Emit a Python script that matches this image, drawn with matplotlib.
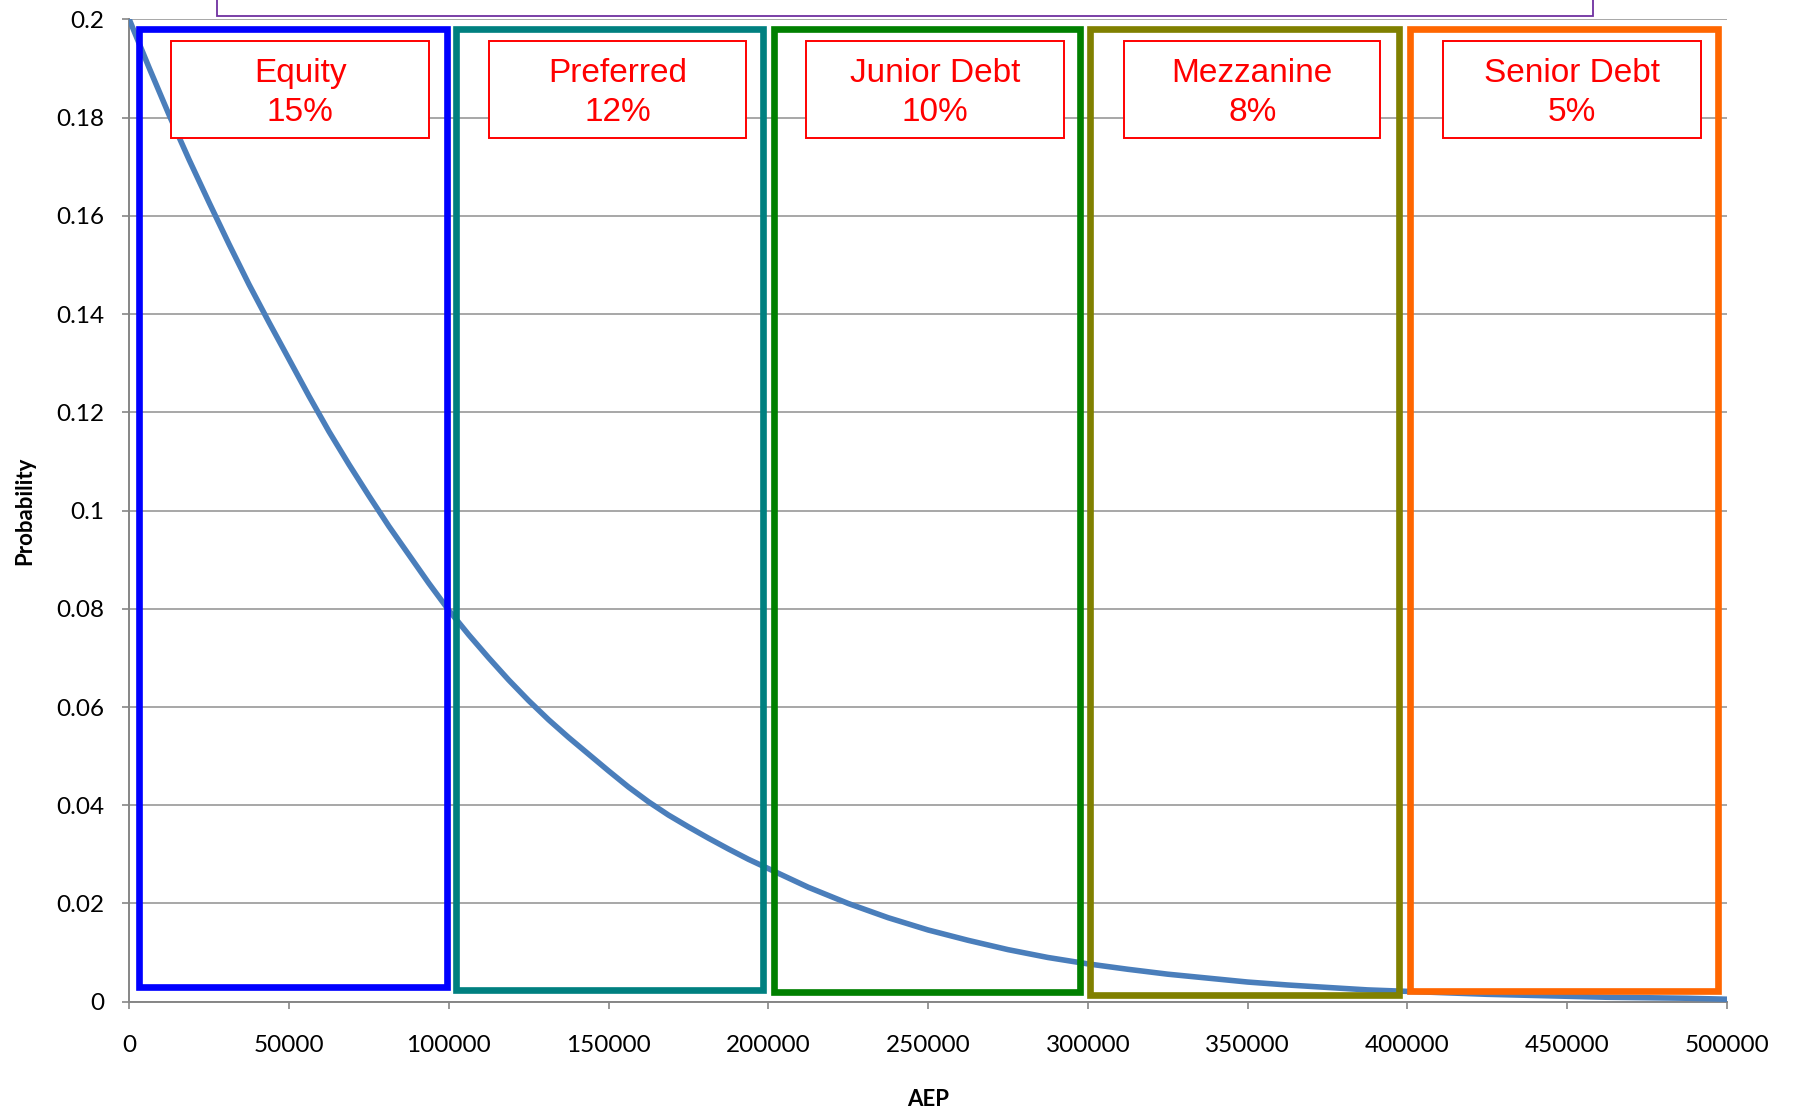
import matplotlib
matplotlib.use("Agg")
import matplotlib.pyplot as plt
from matplotlib.patches import Rectangle

# ---- data ----
aep = [0, 6250, 12500, 18750, 25000, 31250, 37500, 43750, 50000, 56250,
       62500, 68750, 75000, 81250, 87500, 93750, 100000, 106250, 112500, 118750,
       125000, 131250, 137500, 143750, 150000, 156250, 162500, 168750, 175000,
       181250, 187500, 193750, 200000, 212500, 225000,
       237500, 250000, 262500, 275000, 287500, 300000, 312500, 325000, 337500,
       350000, 362500, 375000, 387500, 400000, 412500, 425000, 437500, 450000,
       462500, 475000, 487500, 500000]
prob = [0.2, 0.1901, 0.1805, 0.1714, 0.1627, 0.1542, 0.1460, 0.1383, 0.1308, 0.1233,
        0.1161, 0.1094, 0.1030, 0.0968, 0.0910, 0.0852, 0.0797, 0.0747, 0.0700, 0.0655,
        0.0613, 0.0574, 0.0538, 0.0504, 0.0470, 0.0437, 0.0407, 0.0380, 0.0356,
        0.0333, 0.0311, 0.0290, 0.0271, 0.0233, 0.0200,
        0.0171, 0.0146, 0.0125, 0.0106, 0.0090, 0.0077, 0.0066, 0.0056,
        0.0048, 0.0040, 0.0034, 0.0029, 0.0024, 0.0021, 0.0018, 0.0015, 0.0013,
        0.0011, 0.0009, 0.0008, 0.0007, 0.0005]

tranche_names = ["Equity", "Preferred", "Junior Debt", "Mezzanine", "Senior Debt"]
tranche_rates = ["15%", "12%", "10%", "8%", "5%"]
tranche_left = [3200, 102300, 201900, 300600, 400900]
tranche_right = [99400, 198300, 297400, 397300, 497100]
tranche_bottom = [0.0029, 0.0024, 0.0019, 0.0014, 0.0021]
tranche_top = [0.198, 0.198, 0.198, 0.198, 0.198]
tranche_colors = ["#0000FF", "#008080", "#008000", "#808000", "#FF6600"]
label_left = [13200, 112700, 211900, 311400, 411200]
label_right = [93800, 192900, 292400, 391500, 491800]
label_bottom = 0.1758
label_top = 0.1956

yticks = [0, 0.02, 0.04, 0.06, 0.08, 0.1, 0.12, 0.14, 0.16, 0.18, 0.2]
ytick_labels = ["0", "0.02", "0.04", "0.06", "0.08", "0.1", "0.12", "0.14", "0.16", "0.18", "0.2"]
xticks = [0, 50000, 100000, 150000, 200000, 250000, 300000, 350000, 400000, 450000, 500000]
xtick_labels = [str(v) for v in xticks]

# ---- figure ----
fig = plt.figure(figsize=(17.93, 11.11), dpi=100)
ax = fig.add_axes([0.0721, 0.0984, 0.891, 0.8841])
ax.set_xlim(0, 500000)
ax.set_ylim(0, 0.2)

grid_col = "#A0A0A0"
axis_col = "#868686"
for sp in ["top", "right"]:
    ax.spines[sp].set_visible(False)
for sp in ["left", "bottom"]:
    ax.spines[sp].set_color(axis_col)
    ax.spines[sp].set_linewidth(1.4)

ax.set_yticks(yticks)
ax.set_yticklabels(ytick_labels)
ax.set_xticks(xticks)
ax.set_xticklabels(xtick_labels)
ax.yaxis.grid(True, color=grid_col, linewidth=1.3)
ax.set_axisbelow(True)
ax.tick_params(axis="both", direction="out", length=5, width=1.2, color=axis_col,
               labelsize=17.5, labelcolor="black")
ax.tick_params(axis="y", pad=13)
ax.tick_params(axis="x", pad=19)
for lab in ax.get_xticklabels() + ax.get_yticklabels():
    lab.set_family("Lato")

ax.set_xlabel("AEP", fontsize=16, fontweight="bold", family="Lato")
ax.set_ylabel("Probability", fontsize=16, fontweight="bold", family="Lato")
ax.xaxis.set_label_coords(0.5, -0.1)
ax.yaxis.set_label_coords(-0.0652, 0.5)
ax.xaxis.label.set_va("center")
ax.yaxis.label.set_va("center")

# curve
ax.plot(aep, prob, color="#4A7EBB", linewidth=4.0, solid_capstyle="round",
        solid_joinstyle="round", zorder=3)

# tranche rectangles
for l, r, b, t, c in zip(tranche_left, tranche_right, tranche_bottom, tranche_top, tranche_colors):
    ax.add_patch(Rectangle((l, b), r - l, t - b, fill=False, edgecolor=c,
                           linewidth=4.8, joinstyle="miter", zorder=4))

# labels
for l, r, name, rate in zip(label_left, label_right, tranche_names, tranche_rates):
    ax.add_patch(Rectangle((l, label_bottom), r - l, label_top - label_bottom,
                           facecolor="white", edgecolor="#FF0000", linewidth=1.4, zorder=5))
    ax.text((l + r) / 2, (label_bottom + label_top) / 2 - 0.0007, name + "\n" + rate,
            ha="center", va="center", color="#FF0000", fontsize=24,
            family="Liberation Sans", linespacing=1.32, zorder=6)

# purple box cut off at the top
ax.add_patch(Rectangle((27560, 0.2006), 458120 - 27560, 0.1, facecolor="white",
                       edgecolor="#7030A0", linewidth=1.3, clip_on=False, zorder=2))

fig.savefig("out.png", dpi=100)
